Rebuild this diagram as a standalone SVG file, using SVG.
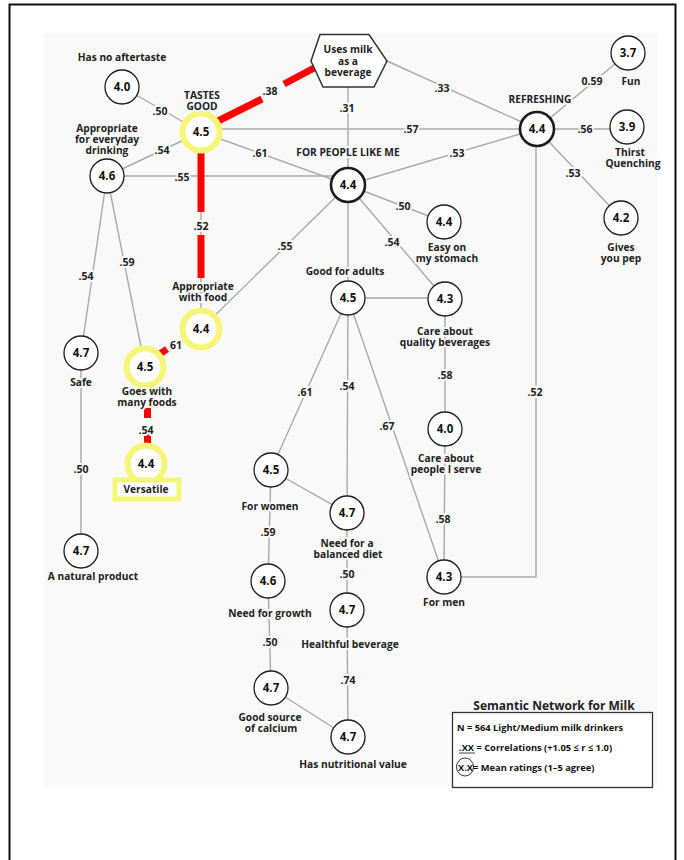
<svg xmlns="http://www.w3.org/2000/svg" width="684" height="860" viewBox="0 0 684 860">
<style>
.edge{stroke:#a9a9a9;stroke-width:1.4;fill:none}
.red{stroke:#ff0000;stroke-width:7;fill:none}
.n{fill:#fff;stroke:#1c1c1c;stroke-width:1.3}
.nt{fill:#fff;stroke:#1c1c1c;stroke-width:2.6}
.y{fill:#fff;stroke:#f5f57a;stroke-width:6}
text{font-family:"Open Sans","Liberation Sans",sans-serif;text-anchor:middle;fill:#222}
.v{font-size:11.5px;font-weight:700;fill:#111}
.l{font-size:10.2px;font-weight:700;stroke:#f9f9f9;stroke-width:4;paint-order:stroke;stroke-linejoin:round}
.c{font-size:10.5px;font-weight:700;stroke:#f9f9f9;stroke-width:4;paint-order:stroke;stroke-linejoin:round}
.h{font-size:10.2px;font-weight:700}
.lg{font-size:9.3px;font-weight:700;text-anchor:start;fill:#111}
</style>
<rect x="9.5" y="4.5" width="666" height="880" fill="#fff" stroke="#111" stroke-width="2"/>
<rect x="44" y="33" width="613" height="754" fill="#f9f9f9"/>

<g id="connectors">
<line class="edge" x1="122" y1="87" x2="201" y2="132"/>
<line class="edge" x1="201" y1="132" x2="107" y2="176"/>
<line class="edge" x1="107" y1="176" x2="345" y2="176"/>
<line class="edge" x1="201" y1="132" x2="348" y2="185"/>
<line class="edge" x1="201" y1="129" x2="537" y2="129"/>
<line class="edge" x1="348" y1="87" x2="348" y2="185"/>
<line class="edge" x1="387" y1="61" x2="537" y2="129"/>
<line class="edge" x1="348" y1="185" x2="537" y2="129"/>
<line class="edge" x1="537" y1="129" x2="628" y2="53"/>
<line class="edge" x1="537" y1="129" x2="627" y2="129"/>
<line class="edge" x1="537" y1="129" x2="621" y2="218"/>
<polyline class="edge" points="536,129 536,577 444,577"/>
<line class="edge" x1="348" y1="185" x2="444" y2="222"/>
<line class="edge" x1="348" y1="185" x2="445" y2="299"/>
<line class="edge" x1="348" y1="185" x2="348" y2="298"/>
<line class="edge" x1="348" y1="185" x2="201" y2="329"/>
<line class="edge" x1="107" y1="176" x2="81" y2="353"/>
<line class="edge" x1="107" y1="176" x2="145" y2="367"/>
<line class="edge" x1="81" y1="353" x2="81" y2="551"/>
<line class="edge" x1="348" y1="298" x2="445" y2="298"/>
<line class="edge" x1="445" y1="299" x2="445" y2="429"/>
<line class="edge" x1="445" y1="429" x2="444" y2="577"/>
<line class="edge" x1="348" y1="298" x2="271" y2="470"/>
<line class="edge" x1="348" y1="298" x2="347" y2="513"/>
<line class="edge" x1="348" y1="298" x2="444" y2="577"/>
<line class="edge" x1="271" y1="470" x2="347" y2="513"/>
<line class="edge" x1="271" y1="470" x2="268" y2="581"/>
<line class="edge" x1="347" y1="513" x2="347" y2="610"/>
<line class="edge" x1="268" y1="581" x2="271" y2="688"/>
<line class="edge" x1="347" y1="610" x2="348" y2="737"/>
<line class="edge" x1="271" y1="688" x2="348" y2="737"/>
<line class="edge" x1="201" y1="150" x2="201" y2="308"/>
<line class="red" x1="218" y1="121" x2="262" y2="99"/>
<line class="red" x1="284" y1="84" x2="316" y2="67"/>
<line class="red" x1="201" y1="152" x2="201" y2="212"/>
<line class="red" x1="201" y1="235" x2="201" y2="278"/>
<line class="red" x1="157" y1="356" x2="167" y2="349"/>
<line class="red" x1="147.5" y1="408" x2="147.5" y2="418"/>
<line class="red" x1="147.5" y1="433" x2="147.5" y2="443"/>
<text class="c" x="160" y="115">.50</text>
<text class="c" x="162" y="154">.54</text>
<text class="c" x="182" y="181">.55</text>
<text class="c" x="260" y="157">.61</text>
<text class="c" x="411" y="133">.57</text>
<text class="c" x="347" y="112">.31</text>
<text class="c" x="270" y="95">.38</text>
<text class="c" x="442" y="92">.33</text>
<text class="c" x="457" y="157">.53</text>
<text class="c" x="592" y="85">0.59</text>
<text class="c" x="585" y="133">.56</text>
<text class="c" x="573" y="177">.53</text>
<text class="c" x="535" y="396">.52</text>
<text class="c" x="403" y="210">.50</text>
<text class="c" x="392" y="246">.54</text>
<text class="c" x="285" y="250">.55</text>
<text class="c" x="201" y="230">.52</text>
<text class="c" x="86" y="280">.54</text>
<text class="c" x="127" y="266">.59</text>
<text class="c" x="176" y="349">61</text>
<text class="c" x="146" y="434">.54</text>
<text class="c" x="81" y="473">.50</text>
<text class="c" x="445" y="379">.58</text>
<text class="c" x="443" y="523">.58</text>
<text class="c" x="305" y="396">.61</text>
<text class="c" x="347" y="390">.54</text>
<text class="c" x="387" y="430">.67</text>
<text class="c" x="268" y="536">.59</text>
<text class="c" x="347" y="578">.50</text>
<text class="c" x="270" y="646">.50</text>
<text class="c" x="348" y="684">.74</text>
</g>

<g id="n-usesmilk">
<polygon points="320,34.5 369,34.5 387,61 374,87 323,87 311,61" fill="#fff" stroke="#333" stroke-width="1.5"/>
<text class="h" x="348" y="53">Uses milk</text>
<text class="h" x="348" y="65">as a</text>
<text class="h" x="348" y="76">beverage</text>
</g>
<g id="n-aftertaste">
<circle class="n" cx="122" cy="87" r="17"/>
<text class="v" x="122" y="91">4.0</text>
<text class="l" x="122" y="61">Has no aftertaste</text>
</g>
<g id="n-tastesgood">
<circle class="y" cx="201" cy="132" r="18.5"/>
<text class="v" x="201" y="136">4.5</text>
<text class="l" x="202" y="99">TASTES</text>
<text class="l" x="202" y="110">GOOD</text>
</g>
<g id="n-everyday">
<circle class="n" cx="107" cy="176" r="17"/>
<text class="v" x="107" y="180">4.6</text>
<text class="l" x="107" y="132">Appropriate</text>
<text class="l" x="107" y="143">for everyday</text>
<text class="l" x="107" y="154">drinking</text>
</g>
<g id="n-fun">
<circle class="n" cx="628" cy="53" r="17"/>
<text class="v" x="628" y="57">3.7</text>
<text class="l" x="631" y="85">Fun</text>
</g>
<g id="n-refreshing">
<circle class="nt" cx="537" cy="129" r="17"/>
<text class="v" x="537" y="133">4.4</text>
<text class="l" x="540" y="103">REFRESHING</text>
</g>
<g id="n-thirst">
<circle class="n" cx="627" cy="127" r="17"/>
<text class="v" x="627" y="131">3.9</text>
<text class="l" x="630" y="156">Thirst</text>
<text class="l" x="633" y="167">Quenching</text>
</g>
<g id="n-pep">
<circle class="n" cx="621" cy="218" r="17"/>
<text class="v" x="621" y="222">4.2</text>
<text class="l" x="621" y="251">Gives</text>
<text class="l" x="621" y="262">you pep</text>
</g>
<g id="n-people">
<circle class="nt" cx="348" cy="185" r="17"/>
<text class="v" x="348" y="189">4.4</text>
<text class="l" x="348" y="156">FOR PEOPLE LIKE ME</text>
</g>
<g id="n-stomach">
<circle class="n" cx="444" cy="222" r="17"/>
<text class="v" x="444" y="226">4.4</text>
<text class="l" x="447" y="251">Easy on</text>
<text class="l" x="447" y="262">my stomach</text>
</g>
<g id="n-adults">
<circle class="n" cx="348" cy="298" r="17"/>
<text class="v" x="348" y="302">4.5</text>
<text class="l" x="345" y="275">Good for adults</text>
</g>
<g id="n-quality">
<circle class="n" cx="445" cy="299" r="17"/>
<text class="v" x="445" y="303">4.3</text>
<text class="l" x="445" y="335">Care about</text>
<text class="l" x="445" y="346">quality beverages</text>
</g>
<g id="n-serve">
<circle class="n" cx="445" cy="429" r="17"/>
<text class="v" x="445" y="433">4.0</text>
<text class="l" x="446" y="462">Care about</text>
<text class="l" x="446" y="473">people I serve</text>
</g>
<g id="n-men">
<circle class="n" cx="444" cy="577" r="17"/>
<text class="v" x="444" y="581">4.3</text>
<text class="l" x="444" y="606">For men</text>
</g>
<g id="n-women">
<circle class="n" cx="271" cy="470" r="17"/>
<text class="v" x="271" y="474">4.5</text>
<text class="l" x="270" y="510">For women</text>
</g>
<g id="n-balanced">
<circle class="n" cx="347" cy="513" r="17"/>
<text class="v" x="347" y="517">4.7</text>
<text class="l" x="347" y="547">Need for a</text>
<text class="l" x="348" y="558">balanced diet</text>
</g>
<g id="n-growth">
<circle class="n" cx="268" cy="581" r="17"/>
<text class="v" x="268" y="585">4.6</text>
<text class="l" x="270" y="617">Need for growth</text>
</g>
<g id="n-healthful">
<circle class="n" cx="347" cy="610" r="17"/>
<text class="v" x="347" y="614">4.7</text>
<text class="l" x="350" y="648">Healthful beverage</text>
</g>
<g id="n-calcium">
<circle class="n" cx="271" cy="688" r="17"/>
<text class="v" x="271" y="692">4.7</text>
<text class="l" x="270" y="721">Good source</text>
<text class="l" x="271" y="732">of calcium</text>
</g>
<g id="n-nutritional">
<circle class="n" cx="348" cy="737" r="17"/>
<text class="v" x="348" y="741">4.7</text>
<text class="l" x="353" y="768">Has nutritional value</text>
</g>
<g id="n-safe">
<circle class="n" cx="81" cy="353" r="17"/>
<text class="v" x="81" y="357">4.7</text>
<text class="l" x="81" y="386">Safe</text>
</g>
<g id="n-natural">
<circle class="n" cx="81" cy="551" r="17"/>
<text class="v" x="81" y="555">4.7</text>
<text class="l" x="93" y="580">A natural product</text>
</g>
<g id="n-goeswith">
<circle class="y" cx="145" cy="367" r="18.5"/>
<text class="v" x="145" y="371">4.5</text>
<text class="l" x="147" y="395">Goes with</text>
<text class="l" x="147" y="406">many foods</text>
</g>
<g id="n-appfood">
<circle class="y" cx="201" cy="329" r="18.5"/>
<text class="v" x="201" y="333">4.4</text>
<text class="l" x="203" y="290">Appropriate</text>
<text class="l" x="203" y="301">with food</text>
</g>
<g id="n-versatile">
<circle class="y" cx="146" cy="464" r="18.5"/>
<text class="v" x="146" y="468">4.4</text>
<rect x="115" y="480" width="64" height="19" fill="#fff" stroke="#f5f57a" stroke-width="5"/>
<text class="h" x="146" y="493">Versatile</text>
</g>

<g id="legend">
<text x="554" y="710" font-size="12px" font-weight="700" fill="#111">Semantic Network for Milk</text>
<rect x="452.5" y="712.5" width="200" height="75" fill="#fff" stroke="#333" stroke-width="1.3"/>
<text class="lg" x="457" y="731">N = 564 Light/Medium milk drinkers</text>
<text class="lg" x="459" y="751">.XX = Correlations (+1.05 ≤ r ≤ 1.0)</text>
<line x1="459" y1="753" x2="475" y2="753" stroke="#111" stroke-width="0.8"/>
<ellipse cx="465" cy="767" rx="8.5" ry="9" fill="none" stroke="#333" stroke-width="1"/>
<text class="lg" x="458" y="770.5">X.X= Mean ratings (1–5 agree)</text>
</g>
</svg>
